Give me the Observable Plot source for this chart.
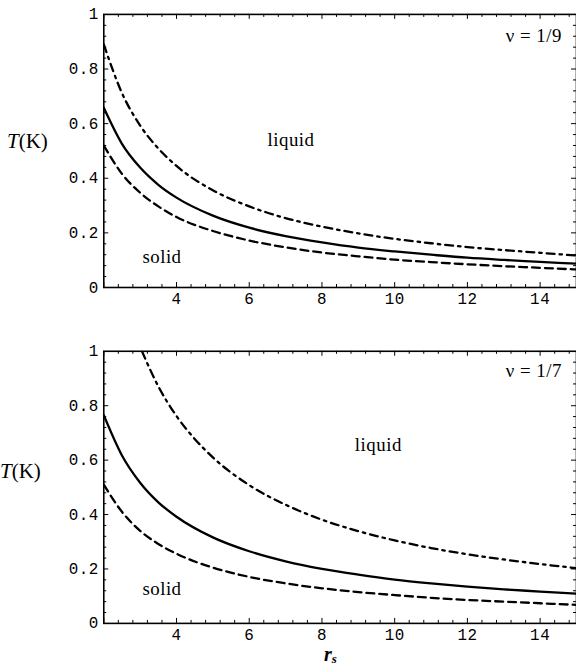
<!DOCTYPE html>
<html><head><meta charset="utf-8">
<script src="https://cdn.jsdelivr.net/npm/d3@7"></script>
<script src="https://cdn.jsdelivr.net/npm/@observablehq/plot@0.6"></script>
<style>
body{margin:0;background:#fff;overflow:hidden}
#wrap{position:relative;width:576px;height:666px;overflow:hidden;background:#fff}
.panel{position:absolute;left:0}
.lab{position:absolute;font-family:"Liberation Serif",serif;color:#000;white-space:nowrap;line-height:1;transform:translateY(-50%)}
</style></head><body><div id="wrap"></div>
<script>
// ---- data ----
const rs = [2, 2.5, 3, 3.5, 4, 5, 6, 7, 8, 9, 10, 11, 12, 13, 14, 15];
// nu = 1/9
const nu9DashDot = [0.89, 0.712, 0.593, 0.509, 0.445, 0.356, 0.297, 0.254, 0.223, 0.198, 0.178, 0.162, 0.148, 0.137, 0.127, 0.117];
const nu9Solid   = [0.658, 0.526, 0.439, 0.376, 0.329, 0.263, 0.219, 0.188, 0.165, 0.146, 0.132, 0.120, 0.109, 0.101, 0.094, 0.087];
const nu9Dashed  = [0.52, 0.416, 0.347, 0.297, 0.258, 0.207, 0.172, 0.147, 0.128, 0.114, 0.102, 0.093, 0.085, 0.078, 0.072, 0.066];
// nu = 1/7
const rsDD7 = [3.05, 3.5, 4, 4.5, 5, 6, 7, 8, 9, 10, 11, 12, 13, 14, 15];
const nu7DashDot = [1.0, 0.871, 0.762, 0.678, 0.61, 0.508, 0.436, 0.381, 0.339, 0.305, 0.277, 0.254, 0.235, 0.218, 0.203];
const nu7Solid   = [0.765, 0.617, 0.517, 0.445, 0.392, 0.316, 0.265, 0.228, 0.200, 0.179, 0.161, 0.147, 0.135, 0.125, 0.117, 0.109];
const nu7Dashed  = [0.51, 0.41, 0.34, 0.292, 0.256, 0.205, 0.171, 0.147, 0.129, 0.115, 0.104, 0.094, 0.086, 0.080, 0.074, 0.068];

const xTickLabels = [4, 6, 8, 10, 12, 14];
const yTickLabels = [0, 0.2, 0.4, 0.6, 0.8, 1];
const xMajor = [2, 4, 6, 8, 10, 12, 14];
const xMinor = [2.4,2.8,3.2,3.6,4.4,4.8,5.2,5.6,6.4,6.8,7.2,7.6,8.4,8.8,9.2,9.6,10.4,10.8,11.2,11.6,12.4,12.8,13.2,13.6,14.4,14.8];
const yMajor = [0.2, 0.4, 0.6, 0.8];
const yMinor = [0.04,0.08,0.12,0.16,0.24,0.28,0.32,0.36,0.44,0.48,0.52,0.56,0.64,0.68,0.72,0.76,0.84,0.88,0.92,0.96];

const panel9Labels = [
  {r: 7.15, T: 0.54, text: "liquid", anchor: "middle"},
  {r: 3.6, T: 0.11, text: "solid", anchor: "middle"},
  {r: 14.6, T: 0.922, text: "ν = 1/9", anchor: "end"}
];
const panel7Labels = [
  {r: 9.55, T: 0.655, text: "liquid", anchor: "middle"},
  {r: 3.6, T: 0.125, text: "solid", anchor: "middle"},
  {r: 14.6, T: 0.928, text: "ν = 1/7", anchor: "end"}
];

const dashed = "8,5";
const dashDot = "8,5,2.5,5";

function series(xs, ys) { return xs.map((r, i) => ({r, T: ys[i]})); }

function makePanel({top, height, marginTop, marginBottom, curves, labels}) {
  const width = 580, marginLeft = 104, marginRight = 0;
  const ih = height - marginTop - marginBottom;
  const iw = width - marginLeft - marginRight;
  const tickStyle = {stroke: "black", strokeWidth: 1};
  const marks = [
    Plot.frame({stroke: "black", strokeWidth: 1.6}),
    Plot.tickX(xMajor, {x: d => d, insetTop: ih - 5, ...tickStyle}),
    Plot.tickX(xMinor, {x: d => d, insetTop: ih - 3, ...tickStyle}),
    Plot.tickX(xMajor, {x: d => d, insetBottom: ih - 5, ...tickStyle}),
    Plot.tickX(xMinor, {x: d => d, insetBottom: ih - 3, ...tickStyle}),
    Plot.tickY(yMajor, {y: d => d, insetRight: iw - 5, ...tickStyle}),
    Plot.tickY(yMinor, {y: d => d, insetRight: iw - 3, ...tickStyle}),
    Plot.tickY(yMajor, {y: d => d, insetLeft: iw - 5, ...tickStyle}),
    Plot.tickY(yMinor, {y: d => d, insetLeft: iw - 3, ...tickStyle}),
    ...curves.map(c => Plot.line(series(c.x, c.y), {
      x: "r", y: "T", stroke: "black", strokeWidth: c.w,
      strokeDasharray: c.dash, curve: "monotone-x", clip: true
    })),
    Plot.text(labels.filter(d => d.anchor === "middle"), {x: "r", y: "T", text: "text", textAnchor: "middle",
      fontFamily: "Liberation Serif", fontSize: 19, fill: "black"}),
    Plot.text(labels.filter(d => d.anchor === "end"), {x: "r", y: "T", text: "text", textAnchor: "end",
      fontFamily: "Liberation Serif", fontSize: 19, fill: "black"}),
    Plot.axisX(xTickLabels, {anchor: "bottom", tickSize: 0, tickPadding: 5, label: null, tickFormat: d => String(d)}),
    Plot.axisY(yTickLabels, {anchor: "left", tickSize: 0, tickPadding: 5, label: null, tickFormat: d => String(d)})
  ];
  const svg = Plot.plot({
    width, height, marginTop, marginBottom, marginLeft, marginRight,
    x: {domain: [2, 15]},
    y: {domain: [0, 1]},
    style: {fontFamily: "Liberation Mono", fontSize: "16px", color: "black", background: "transparent"},
    marks
  });
  svg.classList.add("panel");
  svg.style.top = top + "px";
  svg.style.letterSpacing = "0.5px";
  return svg;
}

const wrap = document.getElementById("wrap");
wrap.appendChild(makePanel({
  top: 0, height: 320, marginTop: 14, marginBottom: 31,
  curves: [
    {x: rs, y: nu9DashDot, dash: dashDot, w: 2.3},
    {x: rs, y: nu9Solid, dash: null, w: 2.3},
    {x: rs, y: nu9Dashed, dash: dashed, w: 2.3}
  ],
  labels: panel9Labels
}));
wrap.appendChild(makePanel({
  top: 320, height: 346, marginTop: 31, marginBottom: 41,
  curves: [
    {x: rsDD7, y: nu7DashDot, dash: dashDot, w: 2.3},
    {x: rs, y: nu7Solid, dash: null, w: 2.3},
    {x: rs, y: nu7Dashed, dash: dashed, w: 2.3}
  ],
  labels: panel7Labels
}));

function addLabel(html, left, cy, size, extra) {
  const d = document.createElement("div");
  d.className = "lab";
  d.innerHTML = html;
  d.style.left = left + "px";
  d.style.top = cy + "px";
  d.style.fontSize = size + "px";
  if (extra) Object.assign(d.style, extra);
  wrap.appendChild(d);
}
addLabel("<i>T</i>(K)", 7, 141, 21);
addLabel("<i>T</i>(K)", 0, 471, 21);
addLabel("<b><i>r</i></b><sub style='font-size:13px;font-style:italic;font-weight:bold;vertical-align:-2px;line-height:1'>s</sub>", 324, 654, 20);
</script></body></html>
